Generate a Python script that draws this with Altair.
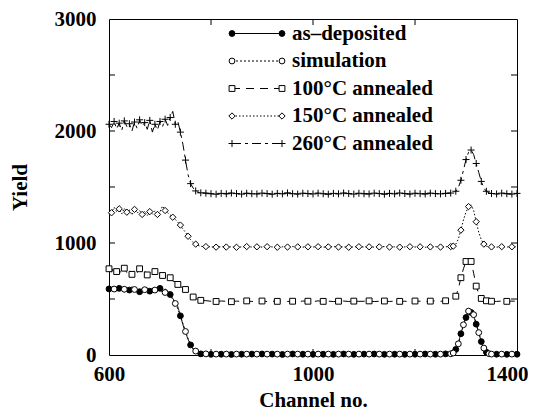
import altair as alt
import pandas as pd

# Channel grid: plateau (600-780 step 5), flat (790-1270 step 10), peak (1275-1345 step 5), tail (1350-1400 step 10)
CH_PLATEAU = list(range(600, 781, 5))
CH_FLAT = list(range(790, 1271, 10))
CH_PEAK = list(range(1275, 1346, 5))
CH_TAIL = list(range(1350, 1401, 10))
CHANNELS = CH_PLATEAU + CH_FLAT + CH_PEAK + CH_TAIL

AS_DEP = [
    590, 575, 600, 570, 595, 585, 560, 600, 580, 610,
    575, 590, 565, 595, 580, 600, 570, 590, 560, 585,
    595, 570, 590, 570, 540, 505, 470, 430, 350, 270,
    200, 140, 90, 50, 28, 15, 10,
    8, 6, 9, 7, 8, 5, 9, 7, 6, 8,
    7, 9, 6, 8, 7, 5, 8, 9, 6, 7,
    8, 6, 9, 7, 8, 6, 7, 9, 8, 6,
    7, 8, 5, 9, 7, 6, 8, 7, 9, 6,
    8, 7, 6, 9, 8, 7, 9, 10, 12,
    20, 50, 110, 190, 270, 335, 375, 380, 345, 275, 195, 120, 60, 25, 10,
    8, 7, 9, 6, 8, 7,
]
SIMULATION = [
    590, 590, 589, 589, 588, 588, 587, 587, 586, 586,
    585, 585, 584, 584, 583, 583, 582, 581, 580, 578,
    575, 568, 558, 545, 525, 498, 460, 412, 350, 280,
    210, 148, 98, 60, 35, 20, 12,
    10, 9, 8, 8, 8, 8, 8, 8, 8, 8,
    8, 8, 8, 8, 8, 8, 8, 8, 8, 8,
    8, 8, 8, 8, 8, 8, 8, 8, 8, 8,
    8, 8, 8, 8, 8, 8, 8, 8, 8, 8,
    8, 8, 8, 8, 8, 8, 8, 9, 11,
    18, 45, 100, 180, 270, 345, 392, 400, 360, 285, 200, 122, 62, 28, 12,
    8, 8, 8, 8, 8, 8,
]
ANN100 = [
    770, 740, 790, 745, 760, 720, 775, 735, 765, 720,
    760, 730, 770, 725, 750, 715, 755, 720, 745, 700,
    735, 710, 725, 690, 690, 660, 655, 630, 615, 595,
    585, 565, 540, 518, 505, 495, 488,
    485, 480, 478, 482, 480, 476, 481, 479, 483, 478,
    480, 482, 477, 481, 479, 484, 478, 480, 476, 482,
    480, 478, 483, 479, 481, 477, 480, 482, 478, 481,
    479, 480, 483, 477, 480, 482, 478, 481, 479, 480,
    476, 482, 480, 478, 481, 483, 480, 484, 490,
    505, 525, 590, 690, 770, 835, 865, 835, 730, 615, 545, 505, 490, 484, 480,
    480, 478, 482, 479, 481, 480,
]
ANN150 = [
    1300, 1270, 1320, 1280, 1305, 1260, 1310, 1275, 1295, 1250,
    1300, 1265, 1290, 1255, 1285, 1245, 1280, 1260, 1290, 1255,
    1280, 1330, 1290, 1270, 1250, 1230, 1210, 1185, 1160, 1125,
    1095, 1060, 1030, 1005, 990, 978, 970,
    968, 965, 963, 967, 964, 966, 962, 965, 968, 964,
    966, 963, 967, 965, 962, 966, 964, 968, 965, 963,
    966, 964, 967, 963, 965, 968, 964, 966, 962, 965,
    967, 964, 966, 963, 965, 968, 964, 966, 963, 965,
    967, 964, 966, 962, 965, 967, 964, 966, 968,
    972, 990, 1035, 1115, 1205, 1275, 1325, 1340, 1290, 1190, 1095, 1030, 990, 972, 966,
    965, 963, 967, 964, 966, 965,
]
ANN260 = [
    2060, 2030, 2085, 2020, 2070, 2005, 2090, 2040, 2065, 2000,
    2080, 2025, 2100, 2045, 2075, 2015, 2095, 1990, 2060, 2010,
    2085, 2040, 2105, 2050, 2120, 2175, 2060, 2085, 1990, 1880,
    1740, 1610, 1530, 1490, 1465, 1452, 1448,
    1445, 1440, 1436, 1443, 1439, 1446, 1441, 1437, 1444, 1440,
    1438, 1445, 1441, 1436, 1443, 1439, 1447, 1440, 1437, 1444,
    1441, 1438, 1445, 1440, 1436, 1443, 1439, 1446, 1441, 1437,
    1444, 1440, 1438, 1445, 1441, 1436, 1443, 1439, 1446, 1441,
    1437, 1444, 1440, 1438, 1445, 1441, 1439, 1443, 1446,
    1450, 1462, 1495, 1560, 1650, 1745, 1810, 1830, 1790, 1710, 1630, 1550, 1490, 1462, 1448,
    1442, 1438, 1445, 1440, 1437, 1443,
]

SERIES = ["as\u2013deposited", "simulation", "100\u00b0C annealed", "150\u00b0C annealed", "260\u00b0C annealed"]
VALUES = [AS_DEP, SIMULATION, ANN100, ANN150, ANN260]

X_LABELS = [600, 1000, 1400]
Y_LABELS = [0, 1000, 2000, 3000]
X_MINOR = [800, 1000, 1200]
Y_MINOR = [500, 1000, 1500, 2000, 2500]

# styles
DASHES = [[1, 0], [2, 2], [8, 6], [1.5, 2], [9, 4, 3, 4]]
PLUS = "M-1,0L1,0M0,-1L0,1"
SHAPES = ["circle", "circle", "square", "diamond", PLUS]
FILLS = ["black", "white", "white", "white", None]
SIZES = [34, 34, 34, 40, 49]
# marker stride (step, offset) per region: plateau, flat, peak
STRIDES = [
    ((20, 0), (20, 0), (10, 0)),
    ((20, 10), (20, 10), (10, 5)),
    ((15, 0), (30, 0), (10, 0)),
    ((15, 5), (20, 10), (15, 0)),
    ((10, 0), (10, 0), (10, 0)),
]


def region(c):
    if c <= 780:
        return 0
    if 1275 <= c <= 1345:
        return 2
    return 1


rows = []
for i, (name, vals) in enumerate(zip(SERIES, VALUES)):
    for c, v in zip(CHANNELS, vals):
        step, off = STRIDES[i][region(c)]
        rows.append({"ch": c, "val": v, "series": name, "mark": (c - off) % step == 0})
df = pd.DataFrame(rows)

FONT = "Liberation Serif"
FS = 21
W, H = 408, 336

LAST = "datum.value === 1400"
x_enc = alt.X("ch:Q", scale=alt.Scale(domain=[600, 1400], nice=False, zero=False),
              axis=alt.Axis(values=X_LABELS, format="d", ticks=False, grid=False, domain=False,
                            labelFont=FONT, labelFontSize=FS, labelFontWeight="bold",
                            labelColor="black", labelPadding=8, labelFlush=False,
                            labelAlign={"condition": {"test": LAST, "value": "right"}, "value": "center"},
                            labelOffset={"condition": {"test": LAST, "value": 11}, "value": 0},
                            title="Channel no.", titleFont=FONT, titleFontSize=FS,
                            titleFontWeight="bold", titleColor="black", titlePadding=5))
y_enc = alt.Y("val:Q", scale=alt.Scale(domain=[0, 3000], nice=False),
              axis=alt.Axis(values=Y_LABELS, format="d", ticks=False, grid=False, domain=False,
                            labelFont=FONT, labelFontSize=FS, labelFontWeight="bold",
                            labelColor="black", labelPadding=13, labelFlush=False,
                            title="Yield", titleFont=FONT, titleFontSize=FS,
                            titleFontWeight="bold", titleColor="black", titlePadding=24))

layers = []
for i, name in enumerate(SERIES):
    base = alt.Chart(df).transform_filter(alt.datum.series == name)
    layers.append(base.mark_line(color="black", strokeWidth=1, strokeDash=DASHES[i], clip=True)
                  .encode(x=x_enc, y=y_enc, order="ch:Q"))

for name in [SERIES[k] for k in [4, 3, 2, 0, 1]]:
    k = SERIES.index(name)
    base = alt.Chart(df).transform_filter((alt.datum.series == name) & alt.datum.mark)
    if FILLS[k] is None:
        mk = base.mark_point(shape=SHAPES[k], size=SIZES[k], filled=False, stroke="black",
                             strokeWidth=1, opacity=1)
    else:
        mk = base.mark_point(shape=SHAPES[k], size=SIZES[k], filled=True, fill=FILLS[k],
                             stroke="black", strokeWidth=1, opacity=1, fillOpacity=1)
    layers.append(mk.encode(x=x_enc, y=y_enc))

# inward ticks on the frame
xt = pd.DataFrame({"ch": X_MINOR})
yt = pd.DataFrame({"val": Y_MINOR})
layers.append(alt.Chart(xt).mark_rule(color="black", strokeWidth=1)
              .encode(x=x_enc, y=alt.value(H), y2=alt.value(H - 6)))
layers.append(alt.Chart(xt).mark_rule(color="black", strokeWidth=1)
              .encode(x=x_enc, y=alt.value(0), y2=alt.value(6)))
layers.append(alt.Chart(yt).mark_rule(color="black", strokeWidth=1)
              .encode(y=y_enc, x=alt.value(0), x2=alt.value(6)))
layers.append(alt.Chart(yt).mark_rule(color="black", strokeWidth=1)
              .encode(y=y_enc, x=alt.value(W), x2=alt.value(W - 6)))

# legend
LX0, LX1, LTX = 123, 173, 183
for i, name in enumerate(SERIES):
    py = 14.5 + 27.5 * i
    d = alt.Data(values=[{"t": name}])
    layers.append(alt.Chart(d).mark_rule(color="black", strokeWidth=1, strokeDash=DASHES[i])
                  .encode(x=alt.value(LX0), x2=alt.value(LX1), y=alt.value(py)))
    for px in (LX0, LX1):
        if FILLS[i] is None:
            pm = alt.Chart(d).mark_point(shape=SHAPES[i], size=SIZES[i], filled=False,
                                         stroke="black", strokeWidth=1, opacity=1)
        else:
            pm = alt.Chart(d).mark_point(shape=SHAPES[i], size=SIZES[i], filled=True,
                                         fill=FILLS[i], stroke="black", strokeWidth=1,
                                         opacity=1, fillOpacity=1)
        layers.append(pm.encode(x=alt.value(px), y=alt.value(py)))
    layers.append(alt.Chart(d).mark_text(align="left", baseline="middle", font=FONT,
                                         fontSize=FS, fontWeight="bold", color="black")
                  .encode(x=alt.value(LTX), y=alt.value(py), text="t:N"))

chart = alt.layer(*layers).properties(
    width=W, height=H,
    autosize=alt.AutoSizeParams(type="none"),
    padding={"left": 101, "top": 11, "right": 11, "bottom": 55},
    background="white",
).configure_view(stroke="black", strokeWidth=1)

chart.save("out.html", embed_options={"renderer": "svg", "actions": False})
